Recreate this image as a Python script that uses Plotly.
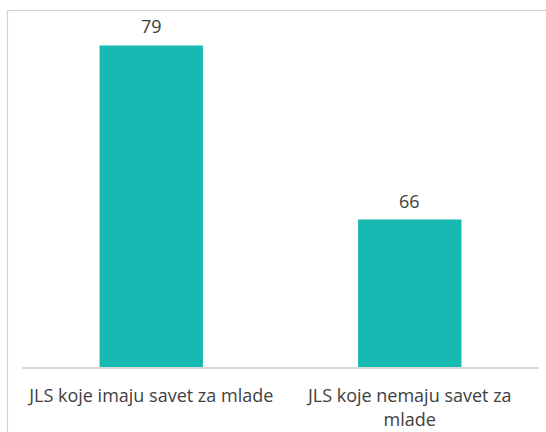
import plotly.graph_objects as go

categories = ["JLS koje imaju savet za mlade", "JLS koje nemaju savet za<br>mlade"]
values = [79, 66]

W, H = 546, 432
ml, mr, mt, mb = 22, 7, 32, 65
pw = W - ml - mr
ph = H - mt - mb
FONT = "Open Sans, sans-serif"

fig = go.Figure(go.Bar(
    x=categories, y=values,
    marker=dict(color="#17BAB3", line=dict(width=0)),
    hoverinfo="x+y",
))

for c, v in zip(categories, values):
    fig.add_annotation(x=c, y=v, text=str(v), showarrow=False,
                       xanchor="center", yanchor="bottom", yshift=5,
                       font=dict(family=FONT, size=18, color="#404040"))

# border (left/top part visible)
bx = (7.5 - ml) / pw
by = 1 + (mt - 10.5) / ph
fig.add_shape(type="rect", xref="paper", yref="paper", x0=bx, x1=1.2, y0=-0.5, y1=by,
              line=dict(color="#D0D0D0", width=1.2), fillcolor="rgba(0,0,0,0)", layer="above")

fig.update_layout(
    width=W, height=H,
    margin=dict(l=ml, r=mr, t=mt, b=mb, autoexpand=False),
    paper_bgcolor="white", plot_bgcolor="white",
    bargap=0.6, showlegend=False,
    xaxis=dict(showline=True, linecolor="#D9D9D9", linewidth=1.5, ticks="",
               tickfont=dict(family=FONT, size=18, color="#404040"),
               ticklabelstandoff=12, showgrid=False, automargin=False),
    yaxis=dict(range=[55, 80], visible=False, showgrid=False, automargin=False),
)

fig.write_html("out.html", config={"displayModeBar": False},
               post_script="document.body.style.margin='0';")
